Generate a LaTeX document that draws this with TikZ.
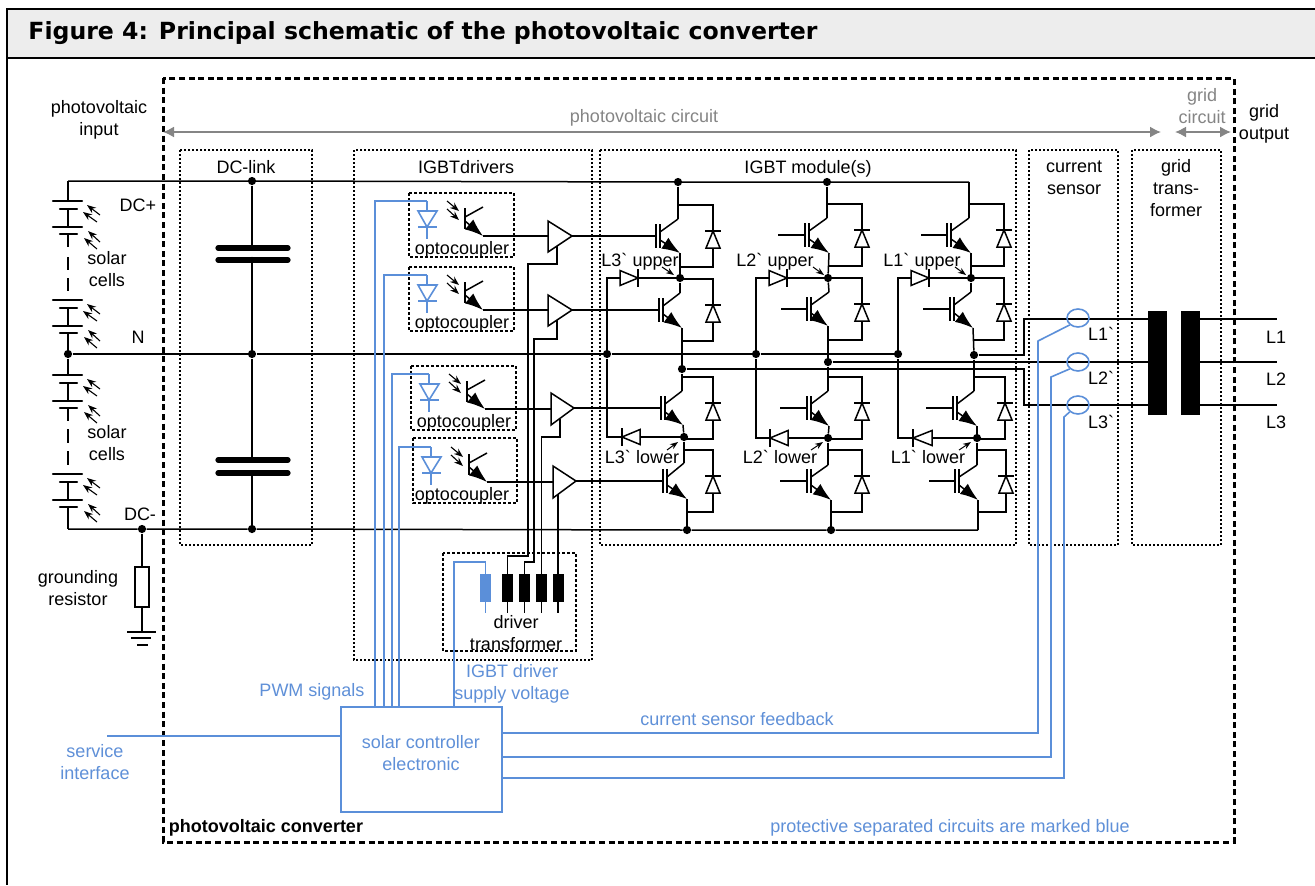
\documentclass[tikz,border=0pt]{standalone}
\usepackage{fontspec}
\usetikzlibrary{arrows.meta,calc,shapes.geometric}
\newfontfamily\arial{Liberation Sans}
\newfontfamily\ttlfont{DejaVu Sans}
\definecolor{bluec}{HTML}{5B8FD9}
\definecolor{blueT}{HTML}{5F90D8}
\definecolor{grayc}{HTML}{858585}
\definecolor{titlebg}{HTML}{EDEDED}
\tikzset{
  wire/.style={black,line width=0.75pt,line join=miter},
  bl/.style={bluec,line width=0.8pt},
  txt/.style={font=\arial\fontsize{9}{11}\selectfont,inner sep=0pt,text height=8.5pt,text depth=1.8pt,black},
  mtxt/.style={font=\arial\fontsize{9}{11}\selectfont,inner sep=0pt,black,align=center},
  btxt/.style={txt,text=blueT},
  bmtxt/.style={mtxt,text=blueT},
  gtxt/.style={txt,text=grayc},
  gmtxt/.style={mtxt,text=grayc},
  junc/.style={circle,fill=black,inner sep=0pt,minimum size=4.1pt},
  outerbox/.style={draw=black,line width=1.5pt,dash pattern=on 3pt off 1.8pt,fill=none},
  dotbox/.style={draw=black,line width=0.6pt,dash pattern=on 1pt off 1pt,fill=none},
  optobox/.style={draw=black,line width=0.6pt,dash pattern=on 1.3pt off 1.2pt,fill=none},
  plate/.style={black,line width=2.6pt,line cap=round},
  cellp/.style={black,line width=1.1pt,line cap=round},
  grayarrow/.style={grayc,line width=0.85pt,{Latex[length=5.5pt,width=5.5pt]}-{Latex[length=5.5pt,width=5.5pt]}},
  sunarrow/.style={black,line width=0.55pt,-{Stealth[length=4.5pt,width=3.4pt]}},
  tagarrow/.style={black,line width=0.5pt,-{Stealth[length=4pt,width=3pt]}},
  emit/.style={black,line width=0.75pt,-{Latex[length=9pt,width=6.5pt]}},
  coil/.style={fill=black,inner sep=0pt,minimum width=5.5pt,minimum height=14pt},
  bcoil/.style={fill=bluec,inner sep=0pt,minimum width=5.5pt,minimum height=14pt},
  core/.style={fill=black,inner sep=0pt,minimum width=9.5pt,minimum height=52pt},
  sensor/.style={ellipse,draw=bluec,line width=0.8pt,inner sep=0pt,minimum width=11pt,minimum height=9pt},
}
% name, barx, gatey, collx, colly, emitx, emity, diodex, gatestart
\newcommand\igbtcell[9]{%
  \coordinate (#1-gs) at (#9,#3);
  \coordinate (#1-g) at (#2,#3);
  \coordinate (#1-c) at (#4,#5);
  \coordinate (#1-e) at (#6,#7);
  \draw[wire] (#1-gs) -- (#1-g);
  \draw[wire] (#2,#3-12) -- (#2,#3+12);
  \draw[wire] (#2+4,#3-12) -- (#2+4,#3+12);
  \draw[wire] (#2+4,#3-4) -- (#1-c);
  \draw[emit] (#2+4,#3+4) -- (#1-e);
  \draw[wire] (#4,#3-31) -- (#8,#3-31) -- (#8,#3-5);
  \draw[wire] (#8-8,#3-5) -- (#8+8,#3-5);
  \draw[wire] (#8,#3-5) -- (#8-7,#3+12) -- (#8+7,#3+12) -- cycle;
  \draw[wire] (#8,#3+12) -- (#8,#3+31) -- (#6,#3+31);
}
% name, basex, apexx, y
\newcommand\hdiode[4]{%
  \coordinate (#1-b) at (#2,#4);
  \coordinate (#1-a) at (#3,#4);
  \draw[wire] (#2,#4-7.5) -- (#1-a) -- (#2,#4+7.5) -- cycle;
  \draw[wire] (#3,#4-9) -- (#3,#4+9);
}
% name, y0
\newcommand\solarcell[2]{%
  \coordinate (#1-t) at (68,#2);
  \coordinate (#1-b) at (68,#2+33);
  \draw[cellp] (53,#2) -- (82,#2);
  \draw[cellp] (60,#2+8) -- (77,#2+8);
  \draw[wire] (68,#2+8) -- (68,#2+26);
  \draw[cellp] (53,#2+26) -- (82,#2+26);
  \draw[cellp] (60,#2+33) -- (77,#2+33);
  \draw[sunarrow] (100,#2+14) -- (87,#2+4);
  \draw[sunarrow] (97,#2+21) -- (83,#2+11);
  \draw[sunarrow] (100,#2+41) -- (88,#2+30);
  \draw[sunarrow] (97,#2+48) -- (84,#2+37);
}
% name, dx, dy
\newcommand\optopart[3]{%
  \begin{scope}[shift={(#2,#3)}]
    \coordinate (#1-top) at (427,201);
    \coordinate (#1-out) at (483,236);
    \draw[bl] (#1-top) -- (427,211);
    \draw[bl] (427,211) -- (418,211) -- (427,227) -- (437,211) -- cycle;
    \draw[bl] (418,227) -- (437,227);
    \draw[bl] (427,227) -- (427,239);
    \draw[sunarrow] (447,201) -- (459,211);
    \draw[sunarrow] (447,209) -- (459,220);
    \draw[wire] (465,208) -- (465,229);
    \draw[wire] (465,217) -- (483,207);
    \draw[emit] (465,221) -- (#1-out);
  \end{scope}
}
% name, basex, top, bottom, apexx, apexy
\newcommand\ampbox[6]{%
  \coordinate (#1-base) at (#2,#6);
  \coordinate (#1-bb) at (#2,#4);
  \coordinate (#1-out) at (#5,#6);
  \draw[wire] (#2,#3) -- (#1-out) -- (#1-bb) -- cycle;
}
\begin{document}
\begin{tikzpicture}[x=0.5pt,y=-0.5pt]
\useasboundingbox (0,0) rectangle (1315,885);
\fill[white] (0,0) rectangle (1315,885);
% title bar
\fill[titlebg] (7,9) rectangle (1315,58);
\draw[black,line width=0.7pt] (1315,9) -- (7,9) -- (7,885);
\draw[black,line width=1.1pt] (7,58) -- (1315,58);
\node[anchor=west,inner sep=0pt,font=\ttlfont\bfseries\fontsize{11.8}{13}\selectfont] (title) at (28,33) {Figure 4: Principal schematic of the photovoltaic converter};
% boxes
\draw[outerbox] (163,78) rectangle (1234,842);
\draw[dotbox] (180,150) rectangle (312,545);
\draw[dotbox] (354,150) rectangle (592,660);
\draw[dotbox] (600,150) rectangle (1016,545);
\draw[dotbox] (1029,150) rectangle (1118,545);
\draw[dotbox] (1132,150) rectangle (1221,545);
\draw[optobox] (409,193) rectangle (514,257);
\draw[optobox] (409,267) rectangle (514,331);
\draw[optobox] (411,366) rectangle (516,430);
\draw[optobox] (413,438) rectangle (517,503);
\draw[optobox] (443,553) rectangle (576,651);
% gray arrows
\coordinate (pvL) at (163,132); \coordinate (pvR) at (1161,132);
\coordinate (grL) at (1175,132); \coordinate (grR) at (1231,132);
\draw[grayarrow] (pvL) -- (pvR);
\draw[grayarrow] (grL) -- (grR);
% junctions (positions)
\node[junc] (jT0) at (252,181) {};
\node[junc] (jT1) at (678,182) {};
\node[junc] (jT2) at (827,182) {};
\coordinate (jT3) at (969,182);
\coordinate (cTL) at (68,181);
\node[junc] (jN0) at (68,354) {};
\node[junc] (jN1) at (252,354) {};
\node[junc] (jN2) at (607,354) {};
\node[junc] (jN3) at (756,354) {};
\node[junc] (jN4) at (898,354) {};
\coordinate (cBL) at (68,529);
\node[junc] (jB0) at (142,529) {};
\node[junc] (jB1) at (252,529) {};
\node[junc] (jB2) at (687,530) {};
\node[junc] (jB3) at (831,530) {};
\coordinate (cB4) at (978,530);
\node[junc] (ju3) at (680,278) {};
\node[junc] (ju2) at (828,278) {};
\node[junc] (ju1) at (971,278) {};
\node[junc] (jd3) at (684,437) {};
\node[junc] (jd2) at (828,438) {};
\node[junc] (jd1) at (977,438) {};
\node[junc] (jL1) at (974,355) {};
\node[junc] (jL2) at (828,362) {};
\node[junc] (jL3) at (682,369) {};
% rails
\draw[wire] (cTL) -- (jT0.center) -- (jT1.center) -- (jT2.center) -- (jT3);
\draw[wire] (jN0) -- (jN1) -- (jN2) -- (jN3) -- (jN4);
\draw[wire] (cBL) -- (jB0) -- (jB1) -- (jB2) -- (jB3) -- (cB4);
% solar cells
\solarcell{c1}{201}
\solarcell{c2}{300}
\solarcell{c3}{375}
\solarcell{c4}{474}
\draw[wire] (cTL) -- (c1-t);
\draw[wire,dash pattern=on 6.5pt off 5pt on 6.5pt off 4pt on 6.5pt off 4.5pt] (c1-b) -- (c2-t);
\draw[wire] (c2-b) -- (jN0);
\draw[wire] (jN0) -- (c3-t);
\draw[wire,dash pattern=on 6.5pt off 4pt on 7pt off 4pt on 7pt off 4.5pt] (c3-b) -- (c4-t);
\draw[wire] (c4-b) -- (cBL);
% DC link capacitors
\coordinate (cap1a) at (252,248); \coordinate (cap1b) at (252,260);
\coordinate (cap2a) at (252,460); \coordinate (cap2b) at (252,473);
\draw[wire] (jT0) -- (cap1a);
\draw[wire] (cap1b) -- (jN1);
\draw[wire] (jN1) -- (cap2a);
\draw[wire] (cap2b) -- (jB1);
\draw[plate] (218,248) -- (288,248);
\draw[plate] (218,260) -- (288,260);
\draw[plate] (218,460) -- (288,460);
\draw[plate] (218,473) -- (288,473);
\node[junc,minimum size=3.2pt] (capdot) at (cap1b) {};
% grounding resistor
\node[draw=black,line width=1.3pt,inner sep=0pt,minimum width=7pt,minimum height=20pt] (rg) at (142,587) {};
\coordinate (gnd) at (142,632);
\draw[wire] (jB0) -- (rg.north);
\draw[wire] (rg.south) -- (gnd);
\draw[black,line width=1.1pt] (127,632) -- (156,632);
\draw[black,line width=1.1pt] (131,638) -- (151,638);
\draw[black,line width=1.1pt] (137,645) -- (148,645);
% amplifiers
\ampbox{a1}{548}{221}{252}{572}{236}
\ampbox{a2}{548}{295}{326}{572}{310}
\ampbox{a3}{551}{393}{425}{574}{408}
\ampbox{a4}{553}{466}{498}{576}{481}
\coordinate (a1-s) at (557,246);
\coordinate (a2-s) at (557,320);
\coordinate (a3-s) at (560,419);
\coordinate (a4-s) at (558,494);
% IGBTs column L3
\igbtcell{u3a}{656}{236}{678}{219}{680}{253}{713}{572}
\igbtcell{u3b}{659}{310}{680}{293}{682}{328}{713}{572}
\igbtcell{l3a}{661}{408}{682}{391}{683}{425}{713}{574}
\igbtcell{l3b}{663}{481}{684}{463}{687}{499}{713}{576}
% column L2
\igbtcell{u2a}{805}{235}{827}{218}{829}{253}{862}{778}
\igbtcell{u2b}{807}{309}{829}{292}{828}{326}{862}{781}
\igbtcell{l2a}{807}{408}{828}{391}{829}{426}{862}{780}
\igbtcell{l2b}{807}{481}{828}{465}{831}{500}{862}{780}
% column L1
\igbtcell{u1a}{947}{235}{969}{218}{971}{253}{1004}{921}
\igbtcell{u1b}{950}{309}{971}{292}{973}{328}{1004}{923}
\igbtcell{l1a}{953}{408}{974}{391}{977}{426}{1005}{926}
\igbtcell{l1b}{955}{481}{977}{465}{978}{500}{1006}{929}
% vertical chains
\draw[wire] (jT1) -- (u3a-c);
\draw[wire] (u3a-e) -- (ju3);
\draw[wire] (ju3) -- (u3b-c);
\draw[wire] (u3b-e) -- (jL3);
\draw[wire] (jL3) -- (l3a-c);
\draw[wire] (l3a-e) -- (jd3);
\draw[wire] (jd3) -- (l3b-c);
\draw[wire] (l3b-e) -- (jB2);
\draw[wire] (jT2) -- (u2a-c);
\draw[wire] (u2a-e) -- (ju2);
\draw[wire] (ju2) -- (u2b-c);
\draw[wire] (u2b-e) -- (jL2);
\draw[wire] (jL2) -- (l2a-c);
\draw[wire] (l2a-e) -- (jd2);
\draw[wire] (jd2) -- (l2b-c);
\draw[wire] (l2b-e) -- (jB3);
\draw[wire] (jT3) -- (u1a-c);
\draw[wire] (u1a-e) -- (ju1);
\draw[wire] (ju1) -- (u1b-c);
\draw[wire] (u1b-e) -- (jL1);
\draw[wire] (jL1) -- (l1a-c);
\draw[wire] (l1a-e) -- (jd1);
\draw[wire] (jd1) -- (l1b-c);
\draw[wire] (l1b-e) -- (cB4);
% clamp diodes
\hdiode{cu3}{620}{638}{278}
\hdiode{cu2}{769}{787}{278}
\hdiode{cu1}{911}{929}{278}
\hdiode{cl3}{640}{622}{437}
\hdiode{cl2}{788}{770}{438}
\hdiode{cl1}{932}{913}{438}
\draw[wire] (ju3) -- (cu3-a);
\draw[wire] (cu3-b) -| (jN2);
\draw[wire] (ju2) -- (cu2-a);
\draw[wire] (cu2-b) -| (jN3);
\draw[wire] (ju1) -- (cu1-a);
\draw[wire] (cu1-b) -| (jN4);
\draw[wire] (jd3) -- (cl3-b);
\draw[wire] (cl3-a) -| (jN2);
\draw[wire] (jd2) -- (cl2-b);
\draw[wire] (cl2-a) -| (jN3);
\draw[wire] (jd1) -- (cl1-b);
\draw[wire] (cl1-a) -| (jN4);
% optocouplers
\optopart{o1}{0}{0}
\optopart{o2}{0}{74}
\optopart{o3}{2}{173}
\optopart{o4}{4}{246}
\draw[wire] (o1-out) -- (o1-out -| a1-base);
\draw[wire] (o2-out) -- (o2-out -| a2-base);
\draw[wire] (o3-out) -- (o3-out -| a3-base);
\draw[wire] (o4-out) -- (o4-out -| a4-base);
% controller
\node[draw=bluec,line width=0.85pt,inner sep=0pt,minimum width=80.5pt,minimum height=52.5pt] (ctrl) at (421.75,759.5) {};
\coordinate (pwm1) at (375,707); \coordinate (pwm2) at (384,707);
\coordinate (pwm3) at (392,707); \coordinate (pwm4) at (399,707);
\draw[bl] (pwm1) |- (o1-top);
\draw[bl] (pwm2) |- (o2-top);
\draw[bl] (pwm3) |- (o3-top);
\draw[bl] (pwm4) |- (o4-top);
\coordinate (svc) at (107,736);
\draw[bl] (svc) -- (svc -| ctrl.west);
% driver transformer
\node[bcoil] (t0) at (485.5,588) {};
\node[coil] (t1) at (507.5,588) {};
\node[coil] (t2) at (524.5,588) {};
\node[coil] (t3) at (541.5,588) {};
\node[coil] (t4) at (558,588) {};
\draw[bl] (t0.south) -- ++(0,11);
\draw[wire] (t1.south) -- ++(0,11);
\draw[wire] (t2.south) -- ++(0,11);
\draw[wire] (t3.south) -- ++(0,11);
\draw[wire] (t4.south) -- ++(0,11);
\draw[bl] (t0.north) -- (485.5,562) -- (454,562) -- (454,707);
\draw[wire] (a1-s) -- (557,264) -- (528,264) -- (528,556) -- (507.5,556) -- (t1.north);
\draw[wire] (a2-s) -- (557,339) -- (534,339) -- (534,562) -- (524.5,562) -- (t2.north);
\draw[wire] (a3-s) -- (560,437) -- (541.5,437) -- (t3.north);
\draw[wire] (a4-s) -- (t4.north);
% grid transformer
\node[core] (core1) at (1157.5,363) {};
\node[core] (core2) at (1190.5,363) {};
\coordinate (bend1) at (1024,319);
\coordinate (bend3) at (1024,405);
\coordinate (out1) at (1277,319);
\coordinate (out2) at (1277,362);
\coordinate (out3) at (1277,405);
\draw[wire] (jL1) -| (bend1) -- (bend1 -| core1.west);
\draw[wire] (jL2) -- (jL2 -| core1.west);
\draw[wire] (jL3) -| (bend3) -- (bend3 -| core1.west);
\draw[wire] (core2.east |- out1) -- (out1);
\draw[wire] (core2.east |- out2) -- (out2);
\draw[wire] (core2.east |- out3) -- (out3);
% current sensors
\node[sensor] (s1) at (1078,318) {};
\node[sensor] (s2) at (1078,362) {};
\node[sensor] (s3) at (1078,405) {};
\draw[bl] (ctrl.east |- 0,733) -- (1038,733) -- (1038,341) -- (s1.south west);
\draw[bl] (ctrl.east |- 0,757) -- (1051,757) -- (1051,377) -- (s2.south west);
\draw[bl] (ctrl.east |- 0,778) -- (1064,778) -- (1064,417) -- (s3.south west);
% small tag arrows
\draw[tagarrow] (662,267) -- (674,275);
\draw[tagarrow] (813,267) -- (824,275);
\draw[tagarrow] (955,267) -- (966,275);
\draw[tagarrow] (667,450) -- (678,442);
\draw[tagarrow] (811,450) -- (823,442);
\draw[tagarrow] (959,450) -- (971,442);
% texts
\node[mtxt] (tPI) at (99,120) {photovoltaic\\input};
\node[txt] (tDCp) at (138,205) {DC+};
\node[mtxt] (tS1) at (107,269) {solar\\cells};
\node[txt] (tN) at (138,337) {N};
\node[mtxt] (tS2) at (107,443) {solar\\cells};
\node[txt] (tDCm) at (140,514) {DC-};
\node[mtxt] (tGR) at (78,588) {grounding\\resistor};
\node[txt] (tDCL) at (246,167) {DC-link};
\node[txt] (tDRV) at (466,167) {IGBTdrivers};
\node[txt] (tMOD) at (808,167) {IGBT module(s)};
\node[mtxt] (tCS) at (1074,178) {current\\sensor};
\node[mtxt] (tGT) at (1176,188) {grid\\trans-\\former};
\node[mtxt] (tGO) at (1264,124) {grid\\output};
\node[gtxt] (tPC) at (644,116) {photovoltaic circuit};
\node[gmtxt] (tGC) at (1202,106) {grid\\circuit};
\node[txt] (to1) at (462,248) {optocoupler};
\node[txt] (to2) at (462,322) {optocoupler};
\node[txt] (to3) at (464,421) {optocoupler};
\node[txt] (to4) at (462,494) {optocoupler};
\node[mtxt] (tDT) at (516,633) {driver\\transformer};
\node[txt] (tu3) at (640,260) {L3`\hspace{0.3em}upper};
\node[txt] (tu2) at (775,260) {L2`\hspace{0.3em}upper};
\node[txt] (tu1) at (922,260) {L1`\hspace{0.3em}upper};
\node[txt] (tl3) at (642,457) {L3`\hspace{0.3em}lower};
\node[txt] (tl2) at (780,457) {L2`\hspace{0.3em}lower};
\node[txt] (tl1) at (928,457) {L1`\hspace{0.3em}lower};
\node[txt] (tSL1) at (1101,334) {L1`};
\node[txt] (tSL2) at (1101,378) {L2`};
\node[txt] (tSL3) at (1101,422) {L3`};
\node[txt] (tOL1) at (1276,337) {L1};
\node[txt] (tOL2) at (1276,379) {L2};
\node[txt] (tOL3) at (1276,422) {L3};
\node[btxt] (tPWM) at (312,690) {PWM signals};
\node[bmtxt] (tSUP) at (512,684) {IGBT driver\\supply voltage};
\node[bmtxt] (tSVC) at (95,762) {service\\interface};
\node[bmtxt] (tCTL) at (421,753) {solar controller\\electronic};
\node[btxt] (tFB) at (737,719) {current sensor feedback};
\node[btxt] (tPRO) at (950,826) {protective separated circuits are marked blue};
\node[txt,font=\arial\bfseries\fontsize{9}{11}\selectfont] (tCONV) at (266,826) {photovoltaic converter};
\end{tikzpicture}
\end{document}
